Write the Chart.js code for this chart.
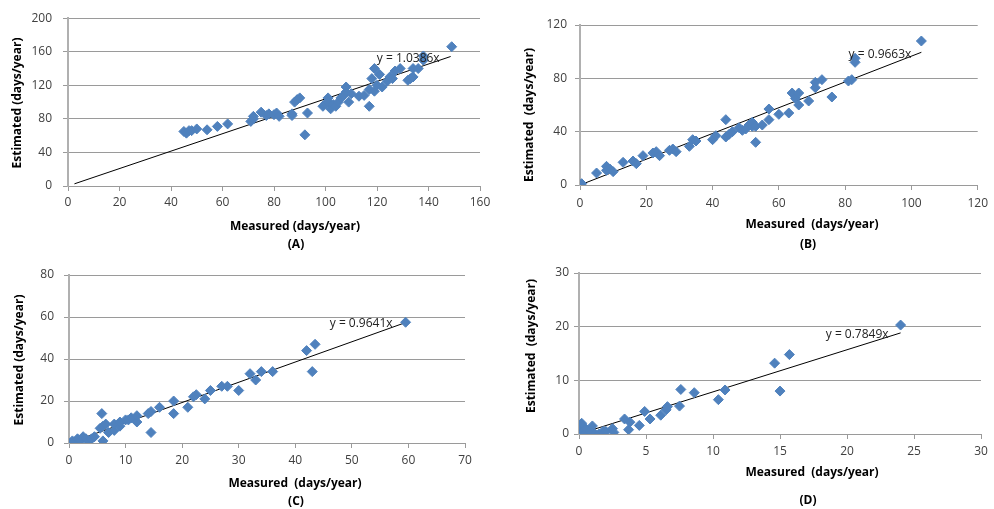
<!DOCTYPE html>
<html>
  <head>
    <title>Measured vs Estimated</title>
    <script src="https://cdn.jsdelivr.net/npm/chart.js"></script>
    <style>
      body {
        margin: 0;
        background: #fff;
        font-family: "Open Sans", sans-serif;
      }
      .wrap {
        position: relative;
        width: 994px;
        height: 509px;
      }
      .panel {
        position: absolute;
      }
      .txt {
        position: absolute;
        font-size: 12px;
        font-weight: bold;
        color: #000;
        white-space: nowrap;
        transform: translate(-50%, -50%);
      }
      .ytitle {
        transform: translate(-50%, -50%) rotate(-90deg);
      }
    </style>
  </head>

  <body>
    <div class="wrap">
      <div class="panel" style="left: 0; top: 0; width: 497px; height: 250px"><canvas id="chartA"></canvas></div>
      <div class="panel" style="left: 500px; top: 0; width: 494px; height: 250px"><canvas id="chartB"></canvas></div>
      <div class="panel" style="left: 0; top: 250px; width: 497px; height: 259px"><canvas id="chartC"></canvas></div>
      <div class="panel" style="left: 500px; top: 250px; width: 494px; height: 259px"><canvas id="chartD"></canvas></div>

      <div class="txt ytitle" style="left: 16px; top: 103px">Estimated (days/year)</div>
      <div class="txt" style="left: 295px; top: 225px">Measured (days/year)</div>
      <div class="txt" style="left: 296px; top: 243px">(A)</div>

      <div class="txt ytitle" style="left: 528px; top: 115px">Estimated&nbsp; (days/year)</div>
      <div class="txt" style="left: 812px; top: 223px">Measured&nbsp; (days/year)</div>
      <div class="txt" style="left: 808px; top: 243px">(B)</div>

      <div class="txt ytitle" style="left: 18px; top: 360px">Estimated (days/year)</div>
      <div class="txt" style="left: 295px; top: 482px">Measured&nbsp; (days/year)</div>
      <div class="txt" style="left: 296px; top: 500px">(C)</div>

      <div class="txt ytitle" style="left: 530px; top: 346px">Estimated&nbsp; (days/year)</div>
      <div class="txt" style="left: 812px; top: 471px">Measured&nbsp; (days/year)</div>
      <div class="txt" style="left: 808px; top: 499px">(D)</div>
    </div>

    <script>
      // (A)
      const aMeasured = [45, 46, 47, 48, 50, 54, 58, 62, 71, 72, 72, 75, 77, 78, 80, 81, 82, 87, 87, 88, 89, 90, 92, 93, 99, 100, 101, 101, 102, 103, 104, 105, 106, 107, 108, 108, 109, 110, 113, 115, 117, 117, 118, 119, 119, 120, 121, 122, 124, 125, 126, 127, 129, 132, 133, 134, 134, 136, 138, 138, 149];
      const aEstimated = [65, 63, 66, 66, 68, 67, 71, 74, 77, 83, 80, 88, 84, 86, 85, 87, 83, 84, 86, 100, 103, 105, 61, 87, 95, 98, 105, 100, 92, 97, 95, 100, 105, 108, 112, 118, 100, 110, 107, 108, 95, 115, 128, 140, 113, 120, 133, 118, 125, 130, 128, 137, 140, 126, 128, 140, 130, 140, 155, 150, 166];
      const aTrend = [2.5, 148.6];
      const aSlope = 1.0386;

      // (B)
      const bMeasured = [0.5, 5, 8, 8, 9, 10, 13, 16, 17, 19, 22, 23, 24, 27, 28, 29, 33, 34, 35, 40, 41, 44, 44, 45, 46, 48, 49, 50, 51, 52, 52, 53, 53, 55, 57, 57, 60, 63, 64, 65, 66, 66, 69, 71, 71, 73, 76, 81, 82, 83, 83, 103];
      const bEstimated = [1, 9, 14, 11, 12, 10, 17, 18, 16, 22, 24, 25, 22, 26, 27, 25, 29, 34, 33, 34, 37, 49, 36, 38, 40, 43, 41, 42, 45, 44, 47, 32, 44, 45, 57, 49, 53, 54, 69, 65, 69, 60, 63, 77, 73, 79, 66, 78, 79, 92, 95, 108];
      const bTrend = [0.5, 103];
      const bSlope = 0.9663;

      // (C)
      const cMeasured = [0.3, 0.6, 1, 1.5, 2, 2.5, 3, 3.5, 4, 4.5, 5.5, 5.8, 6, 6, 6.5, 7, 8, 8, 9, 9, 10, 10.5, 11, 12, 12, 14, 14.5, 14.5, 16, 18.5, 18.5, 21, 22, 22.5, 24, 25, 27, 28, 30, 32, 33, 34, 36, 42, 43, 43.5, 59.5];
      const cEstimated = [0, 1, 0.5, 2, 1, 3, 2, 1, 2, 3, 7, 14, 1, 8, 9, 5, 6, 9, 8, 10, 11, 11, 12, 10, 13, 14, 15, 5, 17, 14, 20, 17, 22, 23, 21, 25, 27, 27, 25, 33, 30, 34, 34, 44, 34, 47, 57.5];
      const cTrend = [0.3, 59.5];
      const cSlope = 0.9641;

      // (D)
      const dMeasured = [0.1, 0.2, 0.3, 0.4, 0.5, 0.7, 0.8, 1, 1.2, 1.5, 1.8, 2, 2.5, 2.6, 3.4, 3.7, 3.8, 4.5, 4.9, 5.3, 6.1, 6.5, 6.6, 7.5, 7.6, 8.6, 10.4, 10.9, 14.6, 15.0, 15.7, 24.0];
      const dEstimated = [1, 2, 0.5, 0, 1, 0, 0.5, 1.5, 0, 0, 0.5, 0.5, 1, 0.3, 2.8, 0.8, 2.2, 1.6, 4.2, 2.8, 3.5, 4.5, 5.1, 5.2, 8.3, 7.7, 6.4, 8.2, 13.2, 8.0, 14.8, 20.3];
      const dTrend = [0.1, 24];
      const dSlope = 0.7849;

      const blue = "#4f81bd";
      const gridGrey = "#9a9a9a";
      const tickFont = { family: "'Open Sans', sans-serif", size: 12 };

      // writes "y = ...x" next to the end of the trend line
      const trendLabel = {
        id: "trendLabel",
        afterDatasetsDraw(chart, args, opts) {
          const meta = chart.getDatasetMeta(1);
          const end = meta.data[meta.data.length - 1];
          const ctx = chart.ctx;
          ctx.save();
          ctx.font = "12px 'Open Sans', sans-serif";
          ctx.fillStyle = "#222";
          ctx.textAlign = "right";
          ctx.textBaseline = "middle";
          ctx.fillText(opts.text, end.x - opts.dx, end.y + opts.dy);
          ctx.restore();
        },
      };

      function makeChart(id, measured, estimated, trend, slope, o) {
        const points = measured.map((x, i) => ({ x: x, y: estimated[i] }));
        const line = trend.map((x) => ({ x: x, y: slope * x }));
        return new Chart(document.getElementById(id), {
          type: "scatter",
          data: {
            datasets: [
              {
                data: points,
                pointStyle: "rectRot",
                pointRadius: 5,
                pointBackgroundColor: blue,
                pointBorderColor: blue,
                pointBorderWidth: 1,
              },
              {
                type: "line",
                data: line,
                borderColor: "#000",
                borderWidth: 1,
                pointRadius: 0,
                fill: false,
              },
            ],
          },
          plugins: [trendLabel],
          options: {
            responsive: true,
            maintainAspectRatio: false,
            animation: false,
            events: [],
            layout: { autoPadding: false, padding: o.pad },
            plugins: {
              legend: { display: false },
              tooltip: { enabled: false },
              trendLabel: { text: "y = " + slope.toFixed(4) + "x", dx: o.dx, dy: o.dy },
            },
            scales: {
              x: {
                type: "linear",
                min: 0,
                max: o.xMax,
                ticks: { stepSize: o.xStep, color: "#404040", font: tickFont, padding: o.xPad, maxRotation: 0 },
                grid: { drawOnChartArea: false, drawTicks: true, tickLength: 5, color: gridGrey },
                border: { color: gridGrey, width: 1 },
                afterFit: (s) => { s.height = o.xH; },
              },
              y: {
                type: "linear",
                min: 0,
                max: o.yMax,
                ticks: { stepSize: o.yStep, color: "#404040", font: tickFont, padding: o.yPad },
                grid: { drawTicks: true, tickLength: 5, color: gridGrey },
                border: { color: "#b0b0b0", width: 2 },
                afterFit: (s) => { s.width = o.yW; },
              },
            },
          },
        });
      }

      makeChart("chartA", aMeasured, aEstimated, aTrend, aSlope, {
        pad: { left: 0, top: 16, right: 17, bottom: 0 },
        xMax: 160, xStep: 20, xPad: 4, xH: 64,
        yMax: 200, yStep: 40, yPad: 11, yW: 68,
        dx: 11, dy: 2,
      });
      makeChart("chartB", bMeasured, bEstimated, bTrend, bSlope, {
        pad: { left: 0, top: 25, right: 9, bottom: 0 },
        xMax: 120, xStep: 20, xPad: 6, xH: 65,
        yMax: 120, yStep: 40, yPad: 8, yW: 80,
        dx: 10, dy: 2,
      });
      makeChart("chartC", cMeasured, cEstimated, cTrend, cSlope, {
        pad: { left: 0, top: 25, right: 32, bottom: 0 },
        xMax: 70, xStep: 10, xPad: 5, xH: 66,
        yMax: 80, yStep: 20, yPad: 10, yW: 69,
        dx: 13, dy: 1,
      });
      makeChart("chartD", dMeasured, dEstimated, dTrend, dSlope, {
        pad: { left: 0, top: 23, right: 13, bottom: 0 },
        xMax: 30, xStep: 5, xPad: 5, xH: 75,
        yMax: 30, yStep: 10, yPad: 5, yW: 79,
        dx: 12, dy: 2,
      });
    </script>
  </body>
</html>
